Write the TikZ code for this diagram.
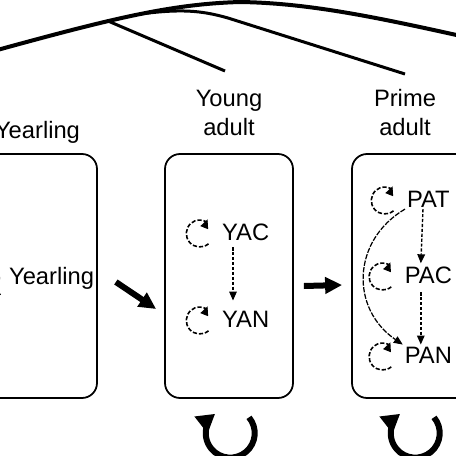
\documentclass[tikz,border=0pt]{standalone}
\usepackage{fontspec}
\setmainfont{Liberation Sans}
\usetikzlibrary{arrows.meta}
\tikzstyle{stage} = [rectangle, rounded corners=3mm, 
minimum width=25.6mm, 
minimum height=48.8mm, 
draw=black, 
line width=1pt]
\tikzstyle{title} = [align=center, 
font=\fontsize{13.5}{16.5}\selectfont, 
inner sep=0pt]
\tikzstyle{state} = [inner sep=1pt, 
font=\fontsize{13.5}{15}\selectfont]
\tikzstyle{flow} = [line width=0.8pt, dash pattern=on 1.8pt off 1pt, 
-{Triangle[length=1.8mm,width=1.5mm]}]
\tikzstyle{selfloop} = [line width=0.9pt, dash pattern=on 2.4pt off 1.1pt, 
-{Triangle[length=1.8mm,width=1.6mm]}]
\tikzstyle{skip} = [line width=0.7pt, dash pattern=on 3pt off 0.8pt, 
-{Triangle[length=1.8mm,width=1.5mm]}]
\tikzstyle{bigarrow} = [line width=1.2mm, -{Triangle[length=3.4mm,width=3.2mm]}]
\tikzstyle{stay} = [line width=1.2mm, -{Triangle[length=3.6mm,width=4mm]}]
\tikzstyle{tree} = [line width=0.8mm]
\tikzstyle{branch} = [line width=0.6mm]
\begin{document}
\begin{tikzpicture}[x=0.2mm, y=0.2mm]
	\useasboundingbox (0,0) rectangle (456,-456);
	\clip (0,0) rectangle (456,-456);
	% stages
	\node (yearling) [stage] at (33,-276) {};
	\node (young) [stage, right of=yearling, node distance=39.2mm] {};
	\node (prime) [stage, right of=young, node distance=37.4mm] {};
	\node (yearT) [title, anchor=base] at (37.5,-138) {Yearling};
	\node (youngT) [title, anchor=base] at (229,-135) {Young\\adult};
	\node (primeT) [title, anchor=base] at (405,-135) {Prime\\adult};
	% classes
	\node (yl) [state, anchor=base west] at (7,-284) {Yearling};
	\node (YAC) [state, anchor=base west] at (220,-240) {YAC};
	\node (YAN) [state, below of=YAC, node distance=17.4mm] {YAN};
	\node (PAT) [state, anchor=base west] at (405,-207) {PAT};
	\node (PAC) [state, below of=PAT, node distance=15.2mm] {PAC};
	\node (PAN) [state, below of=PAC, node distance=16mm] {PAN};
	\draw [flow, shorten <=1mm, shorten >=1.6mm] ([xshift=2.6mm]YAC.south west) -- ([xshift=2.6mm]YAN.north west);
	\draw [flow, shorten >=0.2mm] ([xshift=3.6mm]PAT.south west) -- ([xshift=3.6mm]PAC.north west);
	\draw [flow, shorten <=1.4mm] ([xshift=3.6mm]PAC.south west) -- ([xshift=3.6mm]PAN.north west);
	\draw [skip] (PAT.south west) .. controls +(-53,-31) and +(-53,36) .. (PAN.north west);
	% self loops
	\draw [selfloop] ([shift={(-1.3mm,-3.2mm)}]yl.west) arc[start angle=-50, end angle=-300, radius=2.7mm] -- ++(0.2mm,0.5mm);
	\draw [selfloop] ([shift={(-2.3mm,-2.4mm)}]YAC.west) arc[start angle=-50, end angle=-300, radius=2.7mm] -- ++(0.2mm,0.5mm);
	\draw [selfloop] ([shift={(-2.3mm,-2.4mm)}]YAN.west) arc[start angle=-50, end angle=-300, radius=2.7mm] -- ++(0.2mm,0.5mm);
	\draw [selfloop] ([shift={(-2.3mm,-2.4mm)}]PAT.west) arc[start angle=-50, end angle=-300, radius=2.7mm] -- ++(0.2mm,0.5mm);
	\draw [selfloop] ([shift={(-2.3mm,-2.4mm)}]PAC.west) arc[start angle=-50, end angle=-300, radius=2.7mm] -- ++(0.2mm,0.5mm);
	\draw [selfloop] ([shift={(-2.3mm,-2.4mm)}]PAN.west) arc[start angle=-50, end angle=-300, radius=2.7mm] -- ++(0.2mm,0.5mm);
	% transitions
	\draw [bigarrow] ([shift={(3.6mm,-1.2mm)}]yearling.east) -- ([shift={(-1.6mm,-6.6mm)}]young.west);
	\draw [bigarrow] ([shift={(2mm,-2mm)}]young.east) -- ([shift={(-1.8mm,-1.8mm)}]prime.west);
	\draw [stay] ([shift={(4mm,-3.7mm)}]young.south) arc[start angle=40, end angle=-232, radius=4.9mm];
	\draw [stay] ([shift={(3.6mm,-3.7mm)}]prime.south) arc[start angle=40, end angle=-232, radius=4.9mm];
	% tree on top
	\coordinate (top) at (240,-2);
	\coordinate (fork1) at (108,-21);
	\coordinate (fork2) at (140,-14);
	\coordinate (bend2) at (228,-18);
	\coordinate (leaf1) at (225,-71);
	\coordinate (leaf2) at (405,-74);
	\draw [tree] (-10,-52) .. controls (110,-19) and (170,-4) .. (top) .. controls (310,-3) and (380,-18) .. (470,-38);
	\draw [branch] (fork1) -- (leaf1);
	\draw [branch] (fork2) .. controls (180,-9) and (200,-10) .. (bend2) -- (leaf2);
\end{tikzpicture}
\end{document}
